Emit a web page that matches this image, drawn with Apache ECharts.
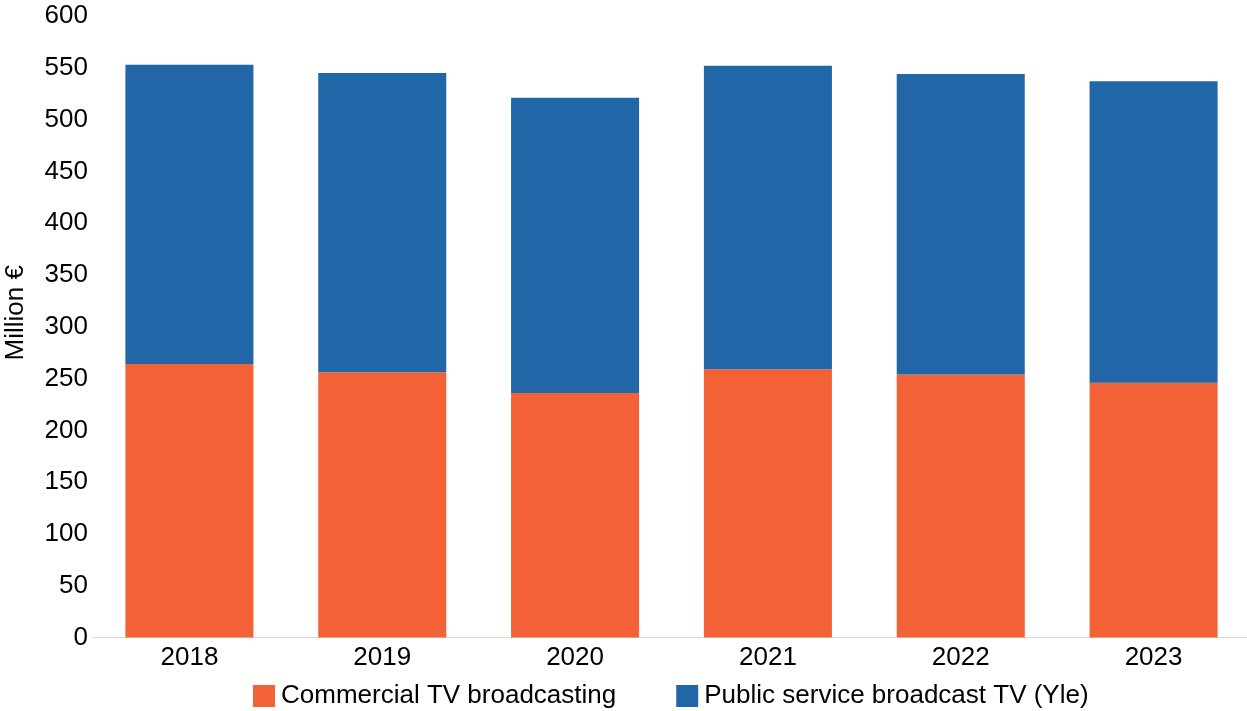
<!DOCTYPE html>
<html>
<head>
<meta charset="utf-8">
<script src="https://cdn.jsdelivr.net/npm/echarts@6/dist/echarts.min.js"></script>
<style>
  html, body { margin: 0; padding: 0; background: #fff; }
  #chart { width: 1247px; height: 711px; }
</style>
</head>
<body>
<div id="chart"></div>
<script>
// Finnish TV broadcasting revenue, million euros
const years = ['2018', '2019', '2020', '2021', '2022', '2023'];
const commercialTV = [264, 256, 236, 259, 254, 246];
const publicServiceTV = [289, 289, 285, 293, 290, 291];
const yTicks = { min: 0, max: 600, interval: 50 };

const font = '"Liberation Sans", Arial, sans-serif';
const chart = echarts.init(document.getElementById('chart'));

chart.setOption({
  animation: false,
  textStyle: { fontFamily: font },
  grid: {
    left: 93, width: 1157, top: 16, bottom: 73.5,
    containLabel: false,
    outerBoundsMode: 'none'
  },
  legend: {
    top: 683,
    left: 253,
    padding: 0,
    itemWidth: 22,
    itemHeight: 22,
    itemGap: 60,
    icon: 'rect',
    textStyle: { fontFamily: font, fontSize: 26, lineHeight: 26, color: '#000', padding: [0, 0, 0, 1] },
    data: ['Commercial TV broadcasting', 'Public service broadcast TV (Yle)']
  },
  xAxis: {
    type: 'category',
    data: years,
    axisLine: { lineStyle: { color: '#d9d9d9', width: 1 } },
    axisTick: { show: false },
    axisLabel: { fontFamily: font, fontSize: 26, color: '#000', margin: 7 }
  },
  yAxis: {
    type: 'value',
    min: yTicks.min,
    max: yTicks.max,
    interval: yTicks.interval,
    name: 'Million €',
    nameLocation: 'middle',
    nameGap: 64,
    nameTextStyle: { fontFamily: font, fontSize: 26, color: '#000', padding: [0, 0, 0, 28] },
    axisLine: { show: false },
    axisTick: { show: false },
    splitLine: { show: false },
    axisLabel: { fontFamily: font, fontSize: 26, color: '#000', margin: 5 }
  },
  series: [
    {
      name: 'Commercial TV broadcasting',
      type: 'bar',
      stack: 'total',
      barWidth: '66.4%',
      itemStyle: { color: '#F26236' },
      data: commercialTV
    },
    {
      name: 'Public service broadcast TV (Yle)',
      type: 'bar',
      stack: 'total',
      barWidth: '66.4%',
      itemStyle: { color: '#2167A8' },
      data: publicServiceTV
    }
  ]
});
</script>
</body>
</html>
